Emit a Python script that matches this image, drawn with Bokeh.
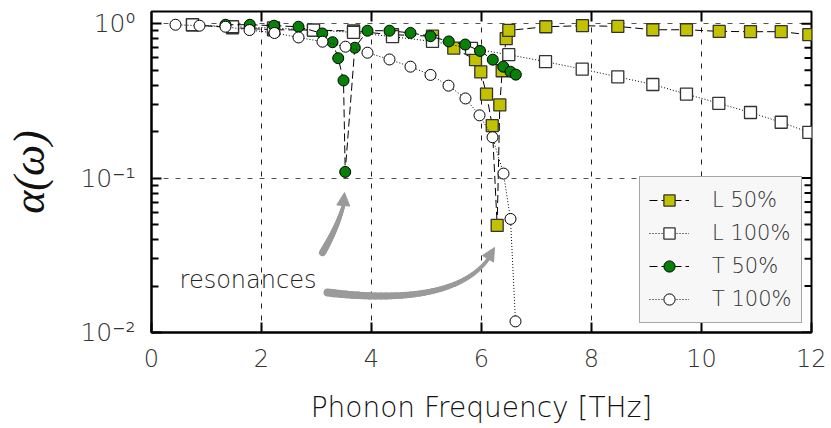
import numpy as np
from bokeh.plotting import figure
from bokeh.models import (Range1d, FixedTicker, Legend, LegendItem, Label, Arrow, NormalHead)
from bokeh.embed import file_html
from bokeh.resources import INLINE

# ---------------- data ----------------
L50_freq = [0.745, 1.473, 2.218, 2.945, 3.673, 4.382, 5.109, 5.496, 5.891, 5.987,
            6.091, 6.195, 6.285, 6.333, 6.376, 6.449, 6.496, 7.169, 7.836, 8.478,
            9.115, 9.727, 10.322, 10.891, 11.449, 11.951]
L50_alpha = [0.985, 0.942, 0.914, 0.910, 0.897, 0.849, 0.830, 0.694, 0.585, 0.487,
             0.350, 0.219, 0.0494, 0.298, 0.496, 0.800, 0.905, 0.956, 0.971, 0.961,
             0.914, 0.914, 0.892, 0.888, 0.888, 0.849]

L100_freq = [0.745, 1.473, 2.218, 2.945, 3.673, 4.382, 5.109, 5.818, 6.496, 7.164,
             7.831, 8.478, 9.115, 9.727, 10.315, 10.891, 11.449, 11.951]
L100_alpha = [0.985, 0.956, 0.938, 0.910, 0.879, 0.824, 0.768, 0.692, 0.630, 0.568,
              0.508, 0.453, 0.404, 0.350, 0.305, 0.266, 0.230, 0.198]

T50_freq = [1.345, 1.787, 2.227, 2.673, 3.104, 3.291, 3.395, 3.491, 3.522, 3.696,
            3.927, 4.327, 4.709, 5.073, 5.405, 5.704, 5.973, 6.205, 6.395, 6.527, 6.624]
T50_alpha = [0.985, 0.985, 0.971, 0.956, 0.865, 0.759, 0.598, 0.429, 0.1097, 0.699,
             0.901, 0.901, 0.872, 0.830, 0.768, 0.733, 0.667, 0.585, 0.527, 0.489, 0.468]

T100_freq = [0.436, 0.873, 1.345, 1.782, 2.236, 2.673, 3.109, 3.527, 3.927, 4.327,
             4.709, 5.073, 5.400, 5.709, 5.964, 6.200, 6.400, 6.527, 6.618]
T100_alpha = [0.985, 0.971, 0.956, 0.910, 0.871, 0.815, 0.765, 0.710, 0.649, 0.587,
              0.527, 0.466, 0.397, 0.328, 0.255, 0.184, 0.107, 0.0544, 0.0118]

series_labels = ["L 50%", "L 100%", "T 50%", "T 100%"]
x_ticks = [0, 2, 4, 6, 8, 10, 12]
y_ticks = [0.01, 0.1, 1.0]
y_tick_labels = ["10\u207b\u00b2", "10\u207b\u00b9", "10\u2070"]
x_title = "Phonon Frequency [THz]"
y_title = "\u03b1(\u03c9)"
note_text = "resonances"

X_MIN, X_MAX = 0, 12
Y_MIN, Y_MAX = 0.01, 1.2

FONT = "DejaVu Sans Light, DejaVu Sans ExtraLight, DejaVu Sans"
YEL = "#c2c200"
GRN = "#068006"
ARROW_C = "#9a9a9a"

p = figure(frame_width=660, frame_height=321,
           x_range=Range1d(X_MIN, X_MAX), y_range=Range1d(Y_MIN, Y_MAX),
           y_axis_type="log", output_backend="svg", toolbar_location=None,
           min_border_left=151, min_border_right=15, min_border_top=11,
           min_border_bottom=60)
p.outline_line_color = "black"
p.outline_line_width = 2

xt = FixedTicker(ticks=x_ticks, minor_ticks=[])
minor_y = [k * 10.0 ** e for e in (-2, -1) for k in range(2, 10)]
yt = FixedTicker(ticks=y_ticks, minor_ticks=minor_y)

xa = p.xaxis[0]
xa.ticker = xt
ya = p.yaxis[0]
ya.ticker = yt
ya.major_label_overrides = {v: s for v, s in zip(y_ticks, y_tick_labels)}

for ax in (xa, ya):
    ax.axis_line_width = 2
    ax.major_tick_in = 10
    ax.major_tick_out = 0
    ax.major_tick_line_width = 2
    ax.minor_tick_in = 7
    ax.minor_tick_out = 0
    ax.minor_tick_line_width = 2
    ax.major_label_text_font = FONT
    ax.major_label_text_color = "#333333"
    ax.axis_label_text_color = "#111111"

xa.major_label_text_font_size = "24px"
xa.major_label_standoff = 16
xa.axis_label = x_title
xa.axis_label_text_font = FONT
xa.axis_label_text_font_style = "normal"
xa.axis_label_text_font_size = "28px"
xa.axis_label_standoff = 21

ya.major_label_text_font_size = "25px"
ya.major_label_standoff = 16
ya.axis_label = y_title
ya.axis_label_text_font = "Liberation Serif"
ya.axis_label_text_font_style = "italic"
ya.axis_label_text_font_size = "44px"
ya.axis_label_standoff = 23

p.xgrid.ticker = xt
p.xgrid.grid_line_color = "#222222"
p.xgrid.grid_line_dash = "5 7"
p.ygrid.ticker = yt
p.ygrid.grid_line_color = "#555555"
p.ygrid.grid_line_dash = "5 7"

# mirrored ticks on the top and right edges (dash markers centred on the
# frame edge, the outer half is clipped by the frame)
inner_x = [t for t in x_ticks if X_MIN < t < X_MAX]
p.scatter(inner_x, [Y_MAX] * len(inner_x), marker="dash", angle=np.pi / 2, size=20,
          line_color="black", line_width=2)
p.scatter([X_MAX] * len(y_ticks), y_ticks, marker="dash", size=20,
          line_color="black", line_width=2)
p.scatter([X_MAX] * len(minor_y), minor_y, marker="dash", size=14,
          line_color="black", line_width=2)

# ---------------- series ----------------
r = []
r.append(p.line(L50_freq, L50_alpha, line_color="black", line_dash="8 4", line_width=1))
r.append(p.scatter(L50_freq, L50_alpha, marker="square", size=12, fill_color=YEL,
                   line_color="#333333", line_width=1.3))
r.append(p.line(L100_freq, L100_alpha, line_color="black", line_dash="1 2", line_width=1))
r.append(p.scatter(L100_freq, L100_alpha, marker="square", size=12, fill_color="white",
                   line_color="#333333", line_width=1.3))
r.append(p.line(T50_freq, T50_alpha, line_color="black", line_dash="8 4", line_width=1))
r.append(p.scatter(T50_freq, T50_alpha, marker="circle", size=11, fill_color=GRN,
                   line_color="black", line_width=1))
r.append(p.line(T100_freq, T100_alpha, line_color="black", line_dash="1 2", line_width=1))
r.append(p.scatter(T100_freq, T100_alpha, marker="circle", size=11, fill_color="white",
                   line_color="black", line_width=1))

legend = Legend(items=[LegendItem(label=series_labels[i], renderers=[r[2 * i], r[2 * i + 1]])
                       for i in range(4)],
                location=(488, 9), glyph_width=40, glyph_height=28, spacing=5,
                padding=9, label_standoff=23, label_text_font=FONT,
                label_text_font_size="21px", label_text_color="#333333",
                background_fill_color="#f7f7f7", background_fill_alpha=1.0,
                border_line_color="#555555", border_line_width=1.5, margin=0)
p.add_layout(legend)

# ---------------- annotation: curved arrows ----------------
def quad_curve(p0, p1, p2, n=40):
    t = np.linspace(0, 1, n)[:, None]
    a = np.array([[q[0], np.log10(q[1])] for q in (p0, p1, p2)])
    pts = (1 - t) ** 2 * a[0] + 2 * (1 - t) * t * a[1] + t ** 2 * a[2]
    return pts[:, 0], 10 ** pts[:, 1]

arrows = [
    # (start, control, end-of-body, tip, width start, width end)
    ((3.109, 0.0329), (3.373, 0.0475), (3.491, 0.0664), (3.509, 0.0806), 7.0, 3.5),
    ((3.20, 0.01815), (5.482, 0.01451), (6.127, 0.0301), (6.236, 0.0355), 8.0, 3.5),
]
for p0, p1, p2, tip, w0, w1 in arrows:
    cx, cy = quad_curve(p0, p1, p2)
    xs = [[cx[i], cx[i + 1]] for i in range(len(cx) - 1)]
    ys = [[cy[i], cy[i + 1]] for i in range(len(cy) - 1)]
    widths = list(np.linspace(w0, w1, len(xs)))
    p.multi_line(xs, ys, line_color=ARROW_C, line_width=widths, line_cap="round")
    p.add_layout(Arrow(end=NormalHead(size=13, fill_color=ARROW_C, line_color=ARROW_C),
                       x_start=float(cx[-2]), y_start=float(cy[-2]),
                       x_end=tip[0], y_end=tip[1], line_alpha=0))

p.add_layout(Label(x=0.51, y=0.0220, text=note_text, text_font=FONT,
                   text_font_size="24px", text_color="#222222",
                   text_baseline="alphabetic"))

open("out.html", "w").write(file_html(p, INLINE))
